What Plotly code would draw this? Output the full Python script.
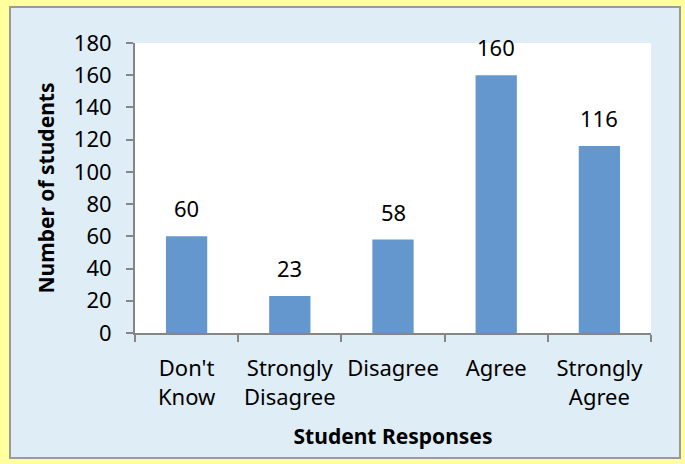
import plotly.graph_objects as go

# Survey results
categories = ["Don't<br>Know", "Strongly<br>Disagree", "Disagree", "Agree", "Strongly<br>Agree"]
counts = [60, 23, 58, 160, 116]
y_ticks = [0, 20, 40, 60, 80, 100, 120, 140, 160, 180]

W, H = 685, 464
ML, MR, MT, MB = 135, 34, 43, 131
pw, ph = W - ML - MR, H - MT - MB

def px_x(px):
    return (px - ML) / pw

def px_y(py):
    return (H - MB - py) / ph

FONT = "Noto Sans"
AXIS_GRAY = "#868686"

fig = go.Figure()
fig.add_trace(go.Bar(
    x=categories, y=counts,
    marker=dict(color="#6397CD", line=dict(width=0)),
    width=0.4,
))

for c, v in zip(categories, counts):
    fig.add_annotation(x=c, y=v, text=str(v), showarrow=False,
                       yanchor="middle", yshift=28,
                       font=dict(family=FONT, size=22, color="#000000"))

# light blue chart panel with grey border on a yellow page
fig.add_shape(type="rect", xref="paper", yref="paper", layer="below",
              x0=px_x(10), x1=px_x(680), y0=px_y(458), y1=px_y(7),
              fillcolor="#DFEDF7", line=dict(color="#9A9A9A", width=2))
# white plotting area
fig.add_shape(type="rect", xref="paper", yref="paper", layer="below",
              x0=0, x1=1, y0=0, y1=1, fillcolor="#FFFFFF", line=dict(width=0))

fig.update_layout(
    width=W, height=H,
    margin=dict(l=ML, r=MR, t=MT, b=MB),
    paper_bgcolor="#FFFF9E",
    plot_bgcolor="rgba(0,0,0,0)",
    showlegend=False,
    font=dict(family=FONT, size=22, color="#000000"),
    bargap=0.6,
)
fig.update_xaxes(
    showline=True, linecolor=AXIS_GRAY, linewidth=2,
    ticks="outside", tickson="boundaries", ticklen=7, tickcolor=AXIS_GRAY, tickwidth=2,
    showgrid=False, ticklabelstandoff=15, tickangle=0, automargin=False,
    tickfont=dict(family=FONT, size=22),
    title=dict(text="<b>Student Responses</b>", font=dict(family=FONT, size=21), standoff=19),
)
fig.update_yaxes(
    range=[0, 180], tickvals=y_ticks, automargin=False,
    showline=True, linecolor=AXIS_GRAY, linewidth=2,
    ticks="outside", ticklen=7, tickcolor=AXIS_GRAY, tickwidth=2,
    showgrid=False, zeroline=False, ticklabelstandoff=10,
    tickfont=dict(family=FONT, size=22),
    title=dict(text="<b>Number of students</b>", font=dict(family=FONT, size=21), standoff=13),
)

fig.write_html("out.html")
